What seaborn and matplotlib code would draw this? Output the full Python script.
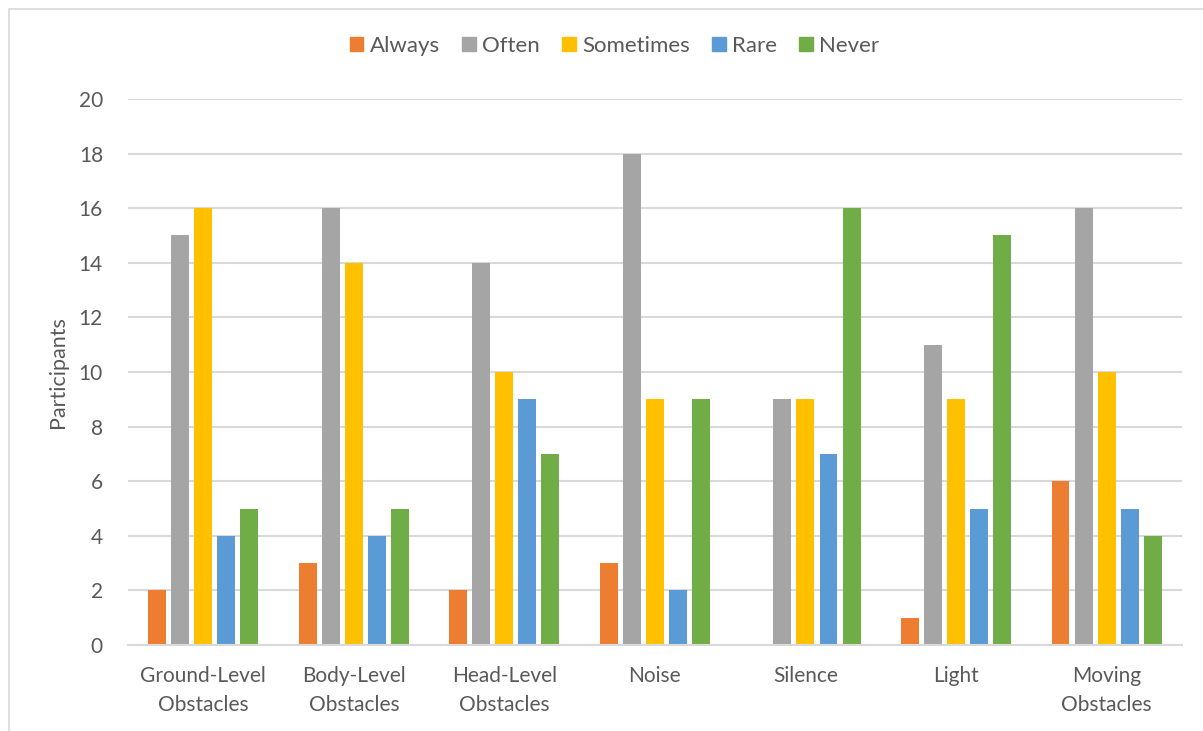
import pandas as pd
import matplotlib.pyplot as plt
import matplotlib.patches as mpatches
import seaborn as sns

# datos
categorias = ["Ground-Level\nObstacles", "Body-Level\nObstacles", "Head-Level\nObstacles",
              "Noise", "Silence", "Light", "Moving\nObstacles"]
frecuencias = ["Always", "Often", "Sometimes", "Rare", "Never"]
always = [2, 3, 2, 3, 0, 1, 6]
often = [15, 16, 14, 18, 9, 11, 16]
sometimes = [16, 14, 10, 9, 9, 9, 10]
rare = [4, 4, 9, 2, 7, 5, 5]
never = [5, 5, 7, 9, 16, 15, 4]
colores = ["#ED7D31", "#A5A5A5", "#FFC000", "#5B9BD5", "#70AD47"]

series = [always, often, sometimes, rare, never]
filas = []
for f, vals in zip(frecuencias, series):
    for c, v in zip(categorias, vals):
        filas.append({"cat": c, "freq": f, "n": v})
df = pd.DataFrame(filas)

sns.set_theme(style="white")
plt.rcParams['font.family'] = ['Lato', 'DejaVu Sans']
gris = "#595959"

fig = plt.figure(figsize=(12.03, 7.31), dpi=100)
ax = fig.add_axes([0.1064, 0.1176, 0.876, 0.747])

sns.barplot(data=df, x="cat", y="n", hue="freq", hue_order=frecuencias,
            palette=colores, width=0.765, gap=0.22, ax=ax, legend=False,
            errorbar=None, saturation=1, linewidth=0)

ax.set_ylim(0, 20)
ax.set_yticks(range(0, 21, 2))
ax.set_xlim(-0.5, 6.5)
ax.yaxis.grid(True, color="#D9D9D9", linewidth=1.5)
ax.set_axisbelow(True)
for s in ["left", "right", "top"]:
    ax.spines[s].set_visible(False)
ax.spines["bottom"].set_color("#D9D9D9")
ax.spines["bottom"].set_linewidth(1.5)
ax.tick_params(axis="both", length=0, labelsize=15, labelcolor=gris)
ax.tick_params(axis="x", pad=15)
ax.tick_params(axis="y", pad=18)
for t in ax.get_xticklabels():
    t.set_linespacing(1.55)
ax.set_xlabel("")
ax.set_ylabel("Participants", fontsize=15.5, color=gris, labelpad=8)

handles = [mpatches.Patch(color=c, label=f) for c, f in zip(colores, frecuencias)]
fig.legend(handles=handles, loc="center", bbox_to_anchor=(0.511, 0.937), ncol=5,
           frameon=False, fontsize=16, labelcolor=gris, handlelength=0.6,
           handleheight=0.6, handletextpad=0.3, columnspacing=1.0)

# marco del gráfico
fig.add_artist(mpatches.Rectangle((0.0075, -0.01), 1.0, 0.998, transform=fig.transFigure,
                                  fill=False, edgecolor="#D9D9D9", linewidth=1.2))

plt.savefig("out.png", dpi=100)
